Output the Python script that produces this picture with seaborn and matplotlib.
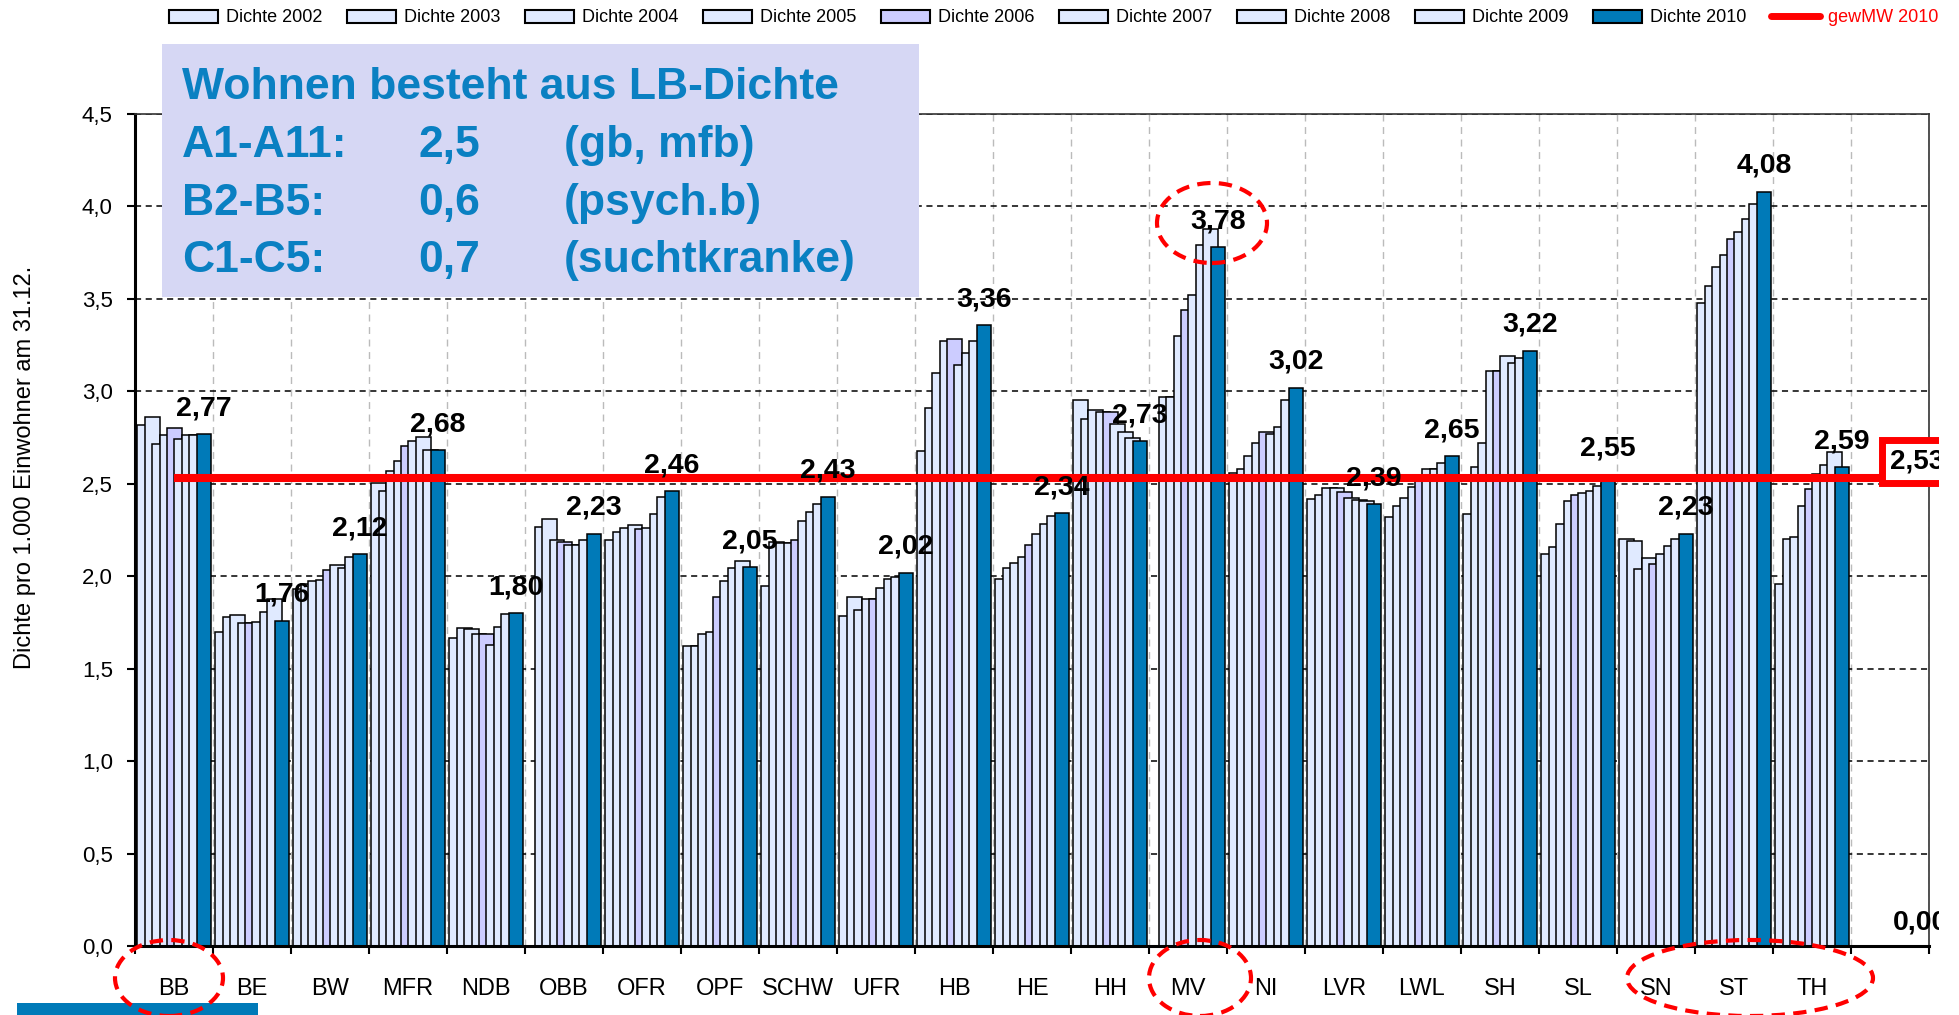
import numpy as np
import pandas as pd
import matplotlib.pyplot as plt
from matplotlib.patches import Patch, Rectangle, Ellipse
from matplotlib.lines import Line2D
import seaborn as sns

sns.set_style('white')
plt.rcParams['font.family'] = ['Liberation Sans', 'DejaVu Sans']
plt.rcParams['text.color'] = 'black'
plt.rcParams['axes.labelcolor'] = 'black'
plt.rcParams['xtick.color'] = 'black'
plt.rcParams['ytick.color'] = 'black'

# Daten
regions = ['BB', 'BE', 'BW', 'MFR', 'NDB', 'OBB', 'OFR', 'OPF', 'SCHW', 'UFR', 'HB',
           'HE', 'HH', 'MV', 'NI', 'LVR', 'LWL', 'SH', 'SL', 'SN', 'ST', 'TH']
years = ['2002', '2003', '2004', '2005', '2006', '2007', '2008', '2009', '2010']
nan = np.nan
d2002 = [2.82, 1.70, 1.93, 2.505, 1.665, nan, 2.195, 1.62, 1.945, 1.785, 2.675,
         1.985, 2.955, nan, 2.56, 2.415, 2.32, 2.335, 2.12, 2.20, 3.48, 1.96]
d2003 = [2.86, 1.78, 1.96, 2.46, 1.72, 2.265, 2.24, 1.62, 2.185, 1.89, 2.91,
         2.045, 2.85, 2.97, 2.58, 2.44, 2.38, 2.59, 2.16, 2.19, 3.57, 2.20]
d2004 = [2.715, 1.79, 1.975, 2.57, 1.715, 2.31, 2.26, 1.69, 2.18, 1.82, 3.10,
         2.07, 2.90, 2.97, 2.65, 2.475, 2.425, 2.72, 2.285, 2.04, 3.67, 2.21]
d2005 = [2.765, 1.745, 1.98, 2.625, 1.69, 2.195, 2.275, 1.70, 2.18, 1.875, 3.27,
         2.105, 2.89, 3.30, 2.72, 2.475, 2.485, 3.11, 2.405, 2.10, 3.74, 2.38]
d2006 = [2.80, 1.745, 2.035, 2.705, 1.69, 2.185, 2.255, 1.89, 2.195, 1.875, 3.285,
         2.17, 2.89, 3.44, 2.78, 2.455, 2.53, 3.11, 2.44, 2.065, 3.825, 2.47]
d2007 = [2.74, 1.755, 2.06, 2.73, 1.63, 2.17, 2.26, 1.975, 2.30, 1.935, 3.145,
         2.23, 2.825, 3.52, 2.77, 2.425, 2.58, 3.19, 2.45, 2.12, 3.86, 2.555]
d2008 = [2.765, 1.805, 2.045, 2.755, 1.725, 2.17, 2.335, 2.045, 2.345, 1.985, 3.21,
         2.28, 2.78, 3.79, 2.805, 2.41, 2.58, 3.155, 2.46, 2.165, 3.93, 2.60]
d2009 = [2.765, 1.875, 2.105, 2.685, 1.795, 2.195, 2.43, 2.08, 2.39, 1.995, 3.27,
         2.325, 2.745, 3.88, 2.955, 2.405, 2.615, 3.18, 2.49, 2.20, 4.015, 2.67]
d2010 = [2.77, 1.76, 2.12, 2.68, 1.80, 2.23, 2.46, 2.05, 2.43, 2.02, 3.36,
         2.34, 2.73, 3.78, 3.02, 2.39, 2.65, 3.22, 2.55, 2.23, 4.08, 2.59]
gew_mw = 2.53
gew_mw_last = 0.00
y_ticks = [0.0, 0.5, 1.0, 1.5, 2.0, 2.5, 3.0, 3.5, 4.0, 4.5]

df = pd.DataFrame({'Region': regions, '2002': d2002, '2003': d2003, '2004': d2004,
                   '2005': d2005, '2006': d2006, '2007': d2007, '2008': d2008,
                   '2009': d2009, '2010': d2010})

LIGHT = '#E0EAFF'
PURPLE = '#CCCCFF'
DARK = '#007AB8'
TXTBLUE = '#0A80C2'
colors = [LIGHT, LIGHT, LIGHT, LIGHT, PURPLE, LIGHT, LIGHT, LIGHT, DARK]

W, H = 1959, 1015


def fx(x):
    return x / W


def fy(y):
    return 1 - y / H


def de(v):
    return f'{v:.2f}'.replace('.', ',')


fig = plt.figure(figsize=(W / 100, H / 100), dpi=100)
ax = fig.add_axes([fx(135), fy(946), (1929 - 135) / W, (946 - 114) / H])

# ueberlappende Balken (50 % Overlap wie in Excel)
bar_w = 0.192
step = 0.0949
left0 = -0.4705
x_idx = np.arange(len(regions))
for i, year in enumerate(years):
    pos = x_idx + left0 + i * step + bar_w / 2
    sns.barplot(x=pos, y=df[year].to_numpy(), native_scale=True, orient='x',
                width=bar_w, color=colors[i], saturation=1, edgecolor='black',
                linewidth=1.1, errorbar=None, ax=ax, zorder=2)

# gewichteter Mittelwert
n_slots = len(regions) + 1
sns.lineplot(x=np.arange(n_slots), y=[gew_mw] * n_slots, color='red', linewidth=5.8,
             ax=ax, zorder=4, solid_capstyle='butt')

# Werte 2010
dark_pos = x_idx + left0 + 8 * step + bar_w / 2
for xp, v in zip(dark_pos, d2010):
    ax.annotate(de(v), (xp, v), xytext=(0, 13.5), textcoords='offset points',
                ha='center', va='baseline', fontsize=20.5, fontweight='bold',
                color='black', zorder=6)
ax.annotate(de(gew_mw_last), (n_slots - 1, gew_mw_last), xytext=(2, 12),
            textcoords='offset points', ha='left', va='baseline', fontsize=20.5,
            fontweight='bold', color='black', annotation_clip=False, zorder=6)
ax.text(n_slots - 1, 2.62, de(gew_mw), ha='left', va='center', fontsize=20,
        fontweight='bold', color='black', clip_on=False, zorder=6,
        bbox=dict(boxstyle='square,pad=0.3', fc='white', ec='red', lw=5))

ax.set_xlim(-0.5, n_slots - 0.5)
ax.set_ylim(0, 4.5)
ax.set_xticks(x_idx)
ax.set_xticklabels(regions)
ax.set_xticks(np.arange(-0.5, n_slots, 1), minor=True)
ax.set_yticks(y_ticks)
ax.set_yticklabels([f'{t:.1f}'.replace('.', ',') for t in y_ticks])
ax.set_xlabel('')
ax.set_ylabel('')

ax.tick_params(axis='x', which='major', bottom=True, length=0, pad=23, labelsize=17,
               labelcolor='black')
ax.tick_params(axis='x', which='minor', bottom=True, direction='out', length=6,
               width=1.5, color='black')
ax.tick_params(axis='y', left=True, direction='out', length=6, width=1.5,
               pad=10, labelsize=16, color='black', labelcolor='black')

ax.set_axisbelow(True)
ax.yaxis.grid(True, color='black', linestyle=(0, (4, 3)), linewidth=1.1)
ax.xaxis.grid(True, which='minor', color='#BBBBBB', linestyle=(0, (5, 4)), linewidth=1)
ax.xaxis.grid(False, which='major')

for side in ['left', 'bottom']:
    ax.spines[side].set_color('black')
    ax.spines[side].set_linewidth(2.2)
for side in ['top', 'right']:
    ax.spines[side].set_color('#333333')
    ax.spines[side].set_linewidth(1.2)

fig.text(fx(25), fy(467), 'Dichte pro 1.000 Einwohner am 31.12.', rotation=90,
         ha='center', va='center', fontsize=17, color='black')

# Legende
handles = [Patch(facecolor=c, edgecolor='black', linewidth=1.5) for c in colors]
handles.append(Line2D([0], [0], color='red', linewidth=5))
labels = ['Dichte ' + y for y in years] + ['gewMW 2010']
leg = fig.legend(handles, labels, loc='center left', bbox_to_anchor=(fx(169), fy(18)),
                 ncol=10, frameon=False, fontsize=13, handlelength=2.71,
                 handleheight=0.72, handletextpad=0.44, columnspacing=1.37,
                 borderpad=0, borderaxespad=0)
for t in leg.get_texts()[:-1]:
    t.set_color('black')
leg.get_texts()[-1].set_color('red')

# Textkasten
fig.add_artist(Rectangle((fx(162), fy(297)), (919 - 162) / W, (297 - 44) / H,
                         transform=fig.transFigure, facecolor='#D6D7F4',
                         edgecolor='none', zorder=5))
box_kw = dict(fontsize=32, fontweight='bold', color=TXTBLUE, va='baseline', zorder=6)
fig.text(fx(182), fy(99), 'Wohnen besteht aus LB-Dichte', **box_kw)
rows = [('A1-A11:', '2,5', '(gb, mfb)', 157),
        ('B2-B5:', '0,6', '(psych.b)', 215),
        ('C1-C5:', '0,7', '(suchtkranke)', 272)]
for a, b, c, yb in rows:
    fig.text(fx(182), fy(yb), a, **box_kw)
    fig.text(fx(418), fy(yb), b, **box_kw)
    fig.text(fx(564), fy(yb), c, **box_kw)

# rote Markierungen
for cx, cy, ew, eh in [(169, 978, 108, 76), (1200, 978, 102, 76),
                       (1212, 223, 110, 80), (1750, 978, 246, 76)]:
    fig.add_artist(Ellipse((fx(cx), fy(cy)), ew / W, eh / H, transform=fig.transFigure,
                           fill=False, edgecolor='red', linewidth=3,
                           linestyle=(0, (3.2, 2)), zorder=7))

# Folienrand
fig.add_artist(Rectangle((fx(17), fy(1015)), (258 - 17) / W, 12 / H,
                         transform=fig.transFigure, facecolor=DARK,
                         edgecolor='none', zorder=5))
fig.add_artist(Rectangle((fx(1939), 0), 20 / W, 1, transform=fig.transFigure,
                         facecolor='white', edgecolor='none', zorder=20))

fig.savefig('out.png', dpi=100)
